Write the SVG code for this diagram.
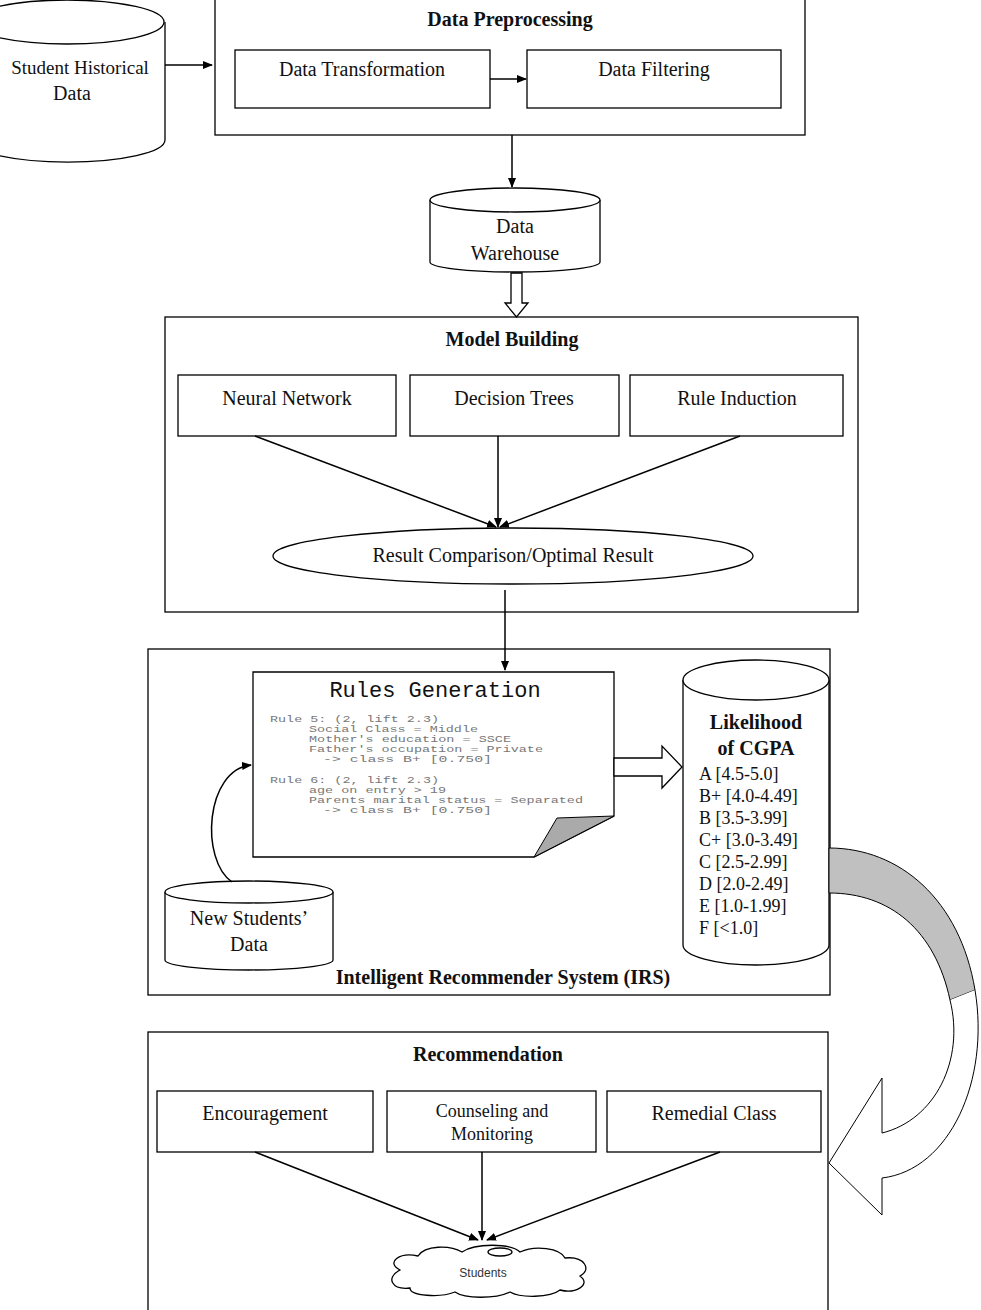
<svg xmlns="http://www.w3.org/2000/svg" width="981" height="1310" viewBox="0 0 981 1310">
<defs>
<marker id="ah" markerWidth="10" markerHeight="8" refX="9" refY="4" orient="auto" markerUnits="userSpaceOnUse"><path d="M0,0 L10,4 L0,8 z" fill="#000"/></marker>
<style>
.b{fill:#fff;stroke:#000;stroke-width:1.3}
.t{font-family:"Liberation Serif",serif;font-size:20px;fill:#111;text-anchor:middle}
.h{font-family:"Liberation Serif",serif;font-size:20px;font-weight:bold;fill:#111;text-anchor:middle}
.m{font-family:"Liberation Mono",monospace;font-size:9.5px;fill:#777}
.c{stroke:#000;stroke-width:1.5;fill:none}
</style>
</defs>
<rect width="981" height="1310" fill="#fff"/>
<g id="historical">
<path class="b" d="M-30,22 L-30,140 A97,22 0 0 0 165,140 L165,22"/>
<ellipse class="b" cx="67" cy="22" rx="97" ry="22"/>
<text class="t" x="80" y="74" style="font-size:19px">Student Historical</text><text class="t" x="72" y="100">Data</text>
</g>
<g id="preprocessing">
<rect class="b" x="215" y="-2" width="590" height="137"/>
<text class="h" x="510" y="26">Data Preprocessing</text>
<rect class="b" x="235" y="50" width="255" height="58"/><text class="t" x="362" y="76">Data Transformation</text>
<rect class="b" x="527" y="50" width="254" height="58"/><text class="t" x="654" y="76">Data Filtering</text>
</g>
<g id="warehouse">
<path class="b" d="M430,200 L430,262 A85,10 0 0 0 600,262 L600,200"/>
<ellipse class="b" cx="515" cy="200" rx="85" ry="12"/>
<text class="t" x="515" y="233">Data</text><text class="t" x="515" y="260">Warehouse</text>
</g>
<g id="model">
<rect class="b" x="165" y="317" width="693" height="295"/>
<text class="h" x="512" y="346">Model Building</text>
<rect class="b" x="178" y="375" width="218" height="61"/><text class="t" x="287" y="405">Neural Network</text>
<rect class="b" x="410" y="375" width="209" height="61"/><text class="t" x="514" y="405">Decision Trees</text>
<rect class="b" x="630" y="375" width="213" height="61"/><text class="t" x="737" y="405">Rule Induction</text>
<ellipse class="b" cx="513" cy="556" rx="240" ry="28"/>
<text class="t" x="513" y="562">Result Comparison/Optimal Result</text>
</g>
<g id="irs">
<rect class="b" x="148" y="649" width="682" height="346"/>
<text class="h" x="503" y="984">Intelligent Recommender System (IRS)</text>
</g>
<g id="rules">
<path class="b" d="M253,672 L614,672 L614,816 L534,857 L253,857 z"/>
<path d="M534,857 L557,818 L614,816 z" fill="#aaa" stroke="#000" stroke-width="1"/>
<text x="435" y="697" style="font-family:'Liberation Mono',monospace;font-size:22px;fill:#111;text-anchor:middle">Rules Generation</text>
<text class="m" x="270" y="722" textLength="169" lengthAdjust="spacingAndGlyphs">Rule 5: (2, lift 2.3)</text>
<text class="m" x="309" y="732" textLength="169" lengthAdjust="spacingAndGlyphs">Social Class = Middle</text>
<text class="m" x="309" y="742" textLength="202" lengthAdjust="spacingAndGlyphs">Mother's education = SSCE</text>
<text class="m" x="309" y="752" textLength="234" lengthAdjust="spacingAndGlyphs">Father's occupation = Private</text>
<text class="m" x="323" y="762" textLength="169" lengthAdjust="spacingAndGlyphs">->  class B+  [0.750]</text>
<text class="m" x="270" y="783" textLength="169" lengthAdjust="spacingAndGlyphs">Rule 6: (2, lift 2.3)</text>
<text class="m" x="309" y="793" textLength="137" lengthAdjust="spacingAndGlyphs">age on entry &gt; 19</text>
<text class="m" x="309" y="803" textLength="274" lengthAdjust="spacingAndGlyphs">Parents marital status = Separated</text>
<text class="m" x="323" y="813" textLength="169" lengthAdjust="spacingAndGlyphs">->  class B+  [0.750]</text>
</g>
<g id="likelihood">
<path class="b" d="M683,680 L683,945 A73,20 0 0 0 829,945 L829,680"/>
<ellipse class="b" cx="756" cy="680" rx="73" ry="20"/>
<text class="h" x="756" y="729">Likelihood</text><text class="h" x="756" y="755">of CGPA</text>
<g style="font-family:'Liberation Serif',serif;font-size:18px;fill:#111">
<text x="699" y="780">A  [4.5-5.0]</text>
<text x="699" y="802">B+ [4.0-4.49]</text>
<text x="699" y="824">B  [3.5-3.99]</text>
<text x="699" y="846">C+ [3.0-3.49]</text>
<text x="699" y="868">C  [2.5-2.99]</text>
<text x="699" y="890">D  [2.0-2.49]</text>
<text x="699" y="912">E  [1.0-1.99]</text>
<text x="699" y="934">F   [&lt;1.0]</text>
</g>
</g>
<g id="newstudents">
<path class="b" d="M165,892 L165,960 A84,10 0 0 0 333,960 L333,892"/>
<ellipse class="b" cx="249" cy="892" rx="84" ry="11"/>
<text class="t" x="249" y="925">New Students’</text><text class="t" x="249" y="951">Data</text>
</g>
<g id="recommendation">
<rect class="b" x="148" y="1032" width="680" height="290"/>
<text class="h" x="488" y="1061">Recommendation</text>
<rect class="b" x="157" y="1091" width="216" height="61"/><text class="t" x="265" y="1120">Encouragement</text>
<rect class="b" x="387" y="1091" width="209" height="61"/><text class="t" x="492" y="1117" style="font-size:18px">Counseling and</text><text class="t" x="492" y="1140" style="font-size:18px">Monitoring</text>
<rect class="b" x="607" y="1091" width="214" height="61"/><text class="t" x="714" y="1120">Remedial Class</text>
</g>
<g id="students">
<path class="b" d="M400,1270 C385,1262 400,1252 418,1256 C425,1245 450,1245 462,1252 C475,1243 510,1243 520,1252 C535,1245 560,1248 565,1258 C585,1256 592,1270 580,1276 C592,1285 575,1294 560,1290 C550,1298 520,1298 510,1292 C495,1299 465,1299 455,1292 C440,1298 410,1296 410,1288 C392,1290 385,1278 400,1270 z"/>
<ellipse class="b" cx="500" cy="1252" rx="12" ry="4"/>
<text x="483" y="1277" style="font-family:'Liberation Sans',sans-serif;font-size:12px;fill:#333;text-anchor:middle">Students</text>
</g>
<g id="connectors">
<line class="c" x1="165" y1="65" x2="212" y2="65" marker-end="url(#ah)"/>
<line class="c" x1="490" y1="79" x2="526" y2="79" marker-end="url(#ah)"/>
<line class="c" x1="512" y1="135" x2="512" y2="187" marker-end="url(#ah)"/>
<path class="b" d="M511,273 L522,273 L522,303 L528,303 L516.5,317 L505,303 L511,303 z"/>
<line class="c" x1="255" y1="436" x2="496" y2="527" marker-end="url(#ah)"/>
<line class="c" x1="498" y1="436" x2="498" y2="527" marker-end="url(#ah)"/>
<line class="c" x1="740" y1="436" x2="500" y2="527" marker-end="url(#ah)"/>
<line class="c" x1="505" y1="590" x2="505" y2="670" marker-end="url(#ah)"/>
<path class="b" d="M614,758 L662,758 L662,746 L682,767 L662,788 L662,776 L614,776 z"/>
<path class="c" d="M232,882 C200,860 205,770 251,765" marker-end="url(#ah)"/>
<line class="c" x1="255" y1="1152" x2="478" y2="1240" marker-end="url(#ah)"/>
<line class="c" x1="482" y1="1152" x2="482" y2="1240" marker-end="url(#ah)"/>
<line class="c" x1="720" y1="1152" x2="487" y2="1240" marker-end="url(#ah)"/>
<path d="M829,848 C900,848 960,900 975,990 L950,1000 C935,930 890,893 829,893 z" fill="#c0c0c0" stroke="#000" stroke-width="1"/>
<path d="M975,990 C990,1080 950,1170 882,1178 L882,1215 L829,1163 L882,1078 L882,1133 C935,1120 965,1060 950,1000" fill="#fff" stroke="#000" stroke-width="1"/>
</g>
</svg>
